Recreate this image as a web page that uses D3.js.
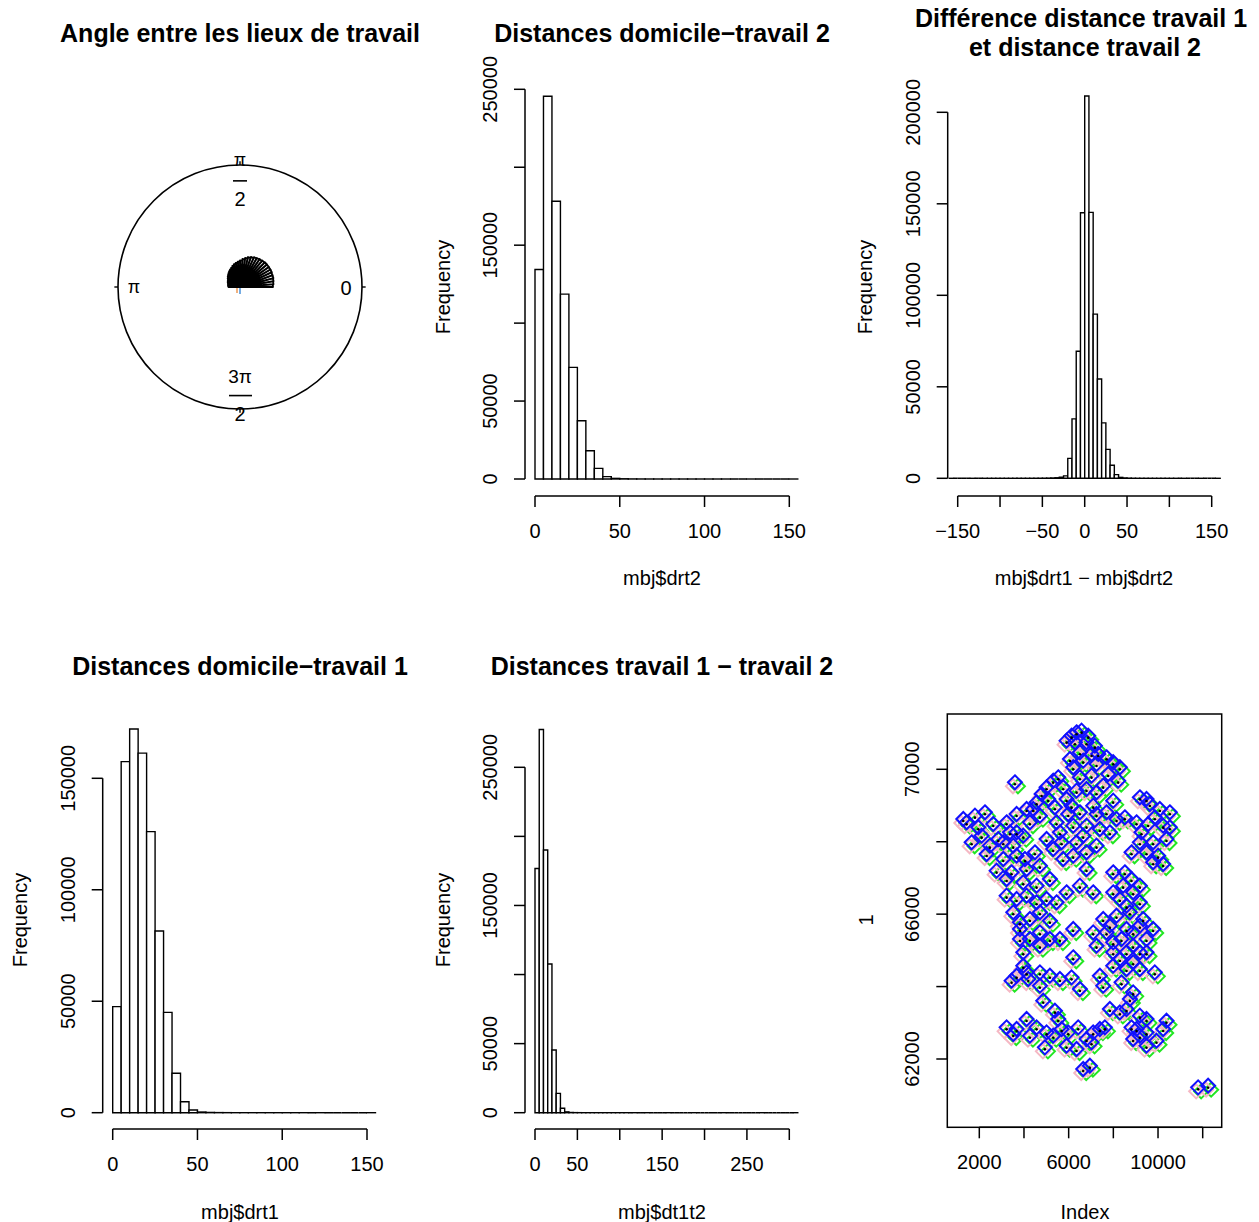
<!DOCTYPE html>
<html><head><meta charset="utf-8">
<script src="https://cdn.jsdelivr.net/npm/d3@7"></script>
<style>body{margin:0;background:#fff}svg{display:block}text{font-family:"Liberation Sans",Arial,Helvetica,sans-serif;fill:#000}</style>
</head><body><svg id="c" width="1259" height="1222"></svg>
<script>
// ---------------- DATA ----------------
// Rose diagram: 5-degree bins from 0 to 180 degrees, radius as fraction of unit circle
const roseBinDeg = 5;
const roseRadius = [0.270,0.275,0.279,0.283,0.283,0.287,0.287,0.287,0.287,0.283,0.279,0.275,0.270,0.262,0.254,0.242,0.230,0.217,
                    0.209,0.201,0.193,0.184,0.172,0.164,0.156,0.148,0.139,0.131,0.123,0.115,0.111,0.107,0.102,0.098,0.098,0.094];
const circleLabels = ["0", "π", "2", "3π"];

// Histogram: mbj$drt2 (bins of 5 from 0)
const drt2Start = 0, drt2Width = 5;
const drt2Counts = [134400,245500,178200,118600,71600,37400,18100,6800,1500,400,150,60,30,15,10,6,4,3,2,2,1,1,1,0,0,1,0,0,0,0,1];
const drt2XTicks = [0,50,100,150];
const drt2YTicks = [0,50000,100000,150000,200000,250000];
const drt2YShown = [0,50000,150000,250000];

// Histogram: mbj$drt1 - mbj$drt2 (bins of 5 from -160)
const diffStart = -160, diffWidth = 5;
const diffCounts = [1,0,0,0,0,1,0,0,1,1,1,2,2,3,4,5,7,10,14,20,30,45,70,110,180,300,600,
                    1300,10900,32500,69400,145100,208900,145300,89700,54300,30300,15800,7100,2000,500,
                    200,90,40,20,12,8,5,3,2,2,1,1,1,0,1,0,0,0,1,0,0,0,1];
const diffXTicks = [-150,-100,-50,0,50,100,150];
const diffXShown = [-150,-50,0,50,150];
const diffYTicks = [0,50000,100000,150000,200000];

// Histogram: mbj$drt1 (bins of 5 from 0)
const drt1Start = 0, drt1Width = 5;
const drt1Counts = [47600,157500,172100,161300,126100,81500,45000,17700,4900,1200,300,120,50,25,12,8,5,3,2,2,1,1,1,0,1,0,0,0,0,0,1];
const drt1XTicks = [0,50,100,150];
const drt1YTicks = [0,50000,100000,150000];

// Histogram: mbj$dt1t2 (bins of 5 from 0)
const dt12Start = 0, dt12Width = 5;
const dt12Counts = [176800,277400,190100,107600,45400,14000,3200,600,150,60,30,15,10,6,4,3,2,2,1,1,
                    1,1,0,1,0,0,1,0,0,0,0,1,0,0,0,0,0,1,0,0,0,0,0,0,1,0,0,0,0,0,0,0,0,1,0,0,0,0,0,0,0,1];
const dt12XTicks = [0,50,100,150,200,250,300];
const dt12XShown = [0,50,150,250];
const dt12YTicks = [0,50000,100000,150000,200000,250000];
const dt12YShown = [0,50000,150000,250000];

// Scatter (Index vs 1)
const scatterX = [6577,6130,6801,6279,7174,6503,7025,6056,6652,7248,7696,8292,8217,7770,7025,6503,7547,7248,3595,
  5534,5012,5757,4565,5086,5385,5906,6354,6801,5981,6503,7099,7696,7994,4117,4714,5459,6205,6801,7397,7845,6652,
  1433,1806,2253,1955,2626,3223,3670,1657,2328,2850,3372,3521,3968,4266,3074,3670,2775,3446,4117,4490,5012,5310,5608,5757,4714,5161,
  9187,9634,10081,10529,8516,9038,9559,10230,9187,9783,10380,10007,9783,8814,10230,
  6205,6801,7248,6801,6503,7099,5906,7994,8441,8888,9187,8292,3223,3670,4117,4565,5012,5459,3521,4714,
  3819,4266,5161,6205,3819,4266,4714,5608,3968,6205,3670,4192,4714,5161,5608,6130,6503,3968,
  7547,8143,8739,9336,9783,7099,7696,8367,8888,9485,7248,7994,8590,9187,7994,8590,9187,7397,8367,9857,7547,8888,
  4863,5385,5534,3223,3521,4117,4266,5012,4937,5683,5906,6428,7099,7025,7621,7845,8292,8739,9038,9485,9485,9187,8888,9932,10380,10230,6354,
  6652,6950,11796,12243,
  6354,6876,5906,7323,7994,6205,5310,4788,4415,6130,7248,8143,5683,6354,3670,3074,2104,1284,2477,4043,3223,3968,4565,
  9485,9857,9261,10529,9485,8516,8814,7994,8590,9187,7845,8590,9187,7994,8888,9485,8292,8888,
  3819,4714,5161,4117,3446,4714,3670,4565,5310,8590,9187,8814,9485,7397,6801,5981];
const scatterY = [71040,70902,70718,70718,70626,70442,70396,70258,70212,70120,70304,70028,69659,69843,69797,69751,69521,69337,69613,
  69751,69475,69475,69061,69153,68923,69153,69383,69429,68739,68785,68969,68785,69107,68877,68693,68508,68416,68416,68324,68232,68140,
  68508,68693,68785,68370,68462,68508,68739,67956,67634,68048,68232,67864,68140,68508,67496,67588,67174,67128,67220,67680,68048,67772,68232,67496,67312,66943,
  69199,69015,68877,68785,68647,68508,68462,68416,67956,67956,68048,67588,67404,67680,67358,
  67588,67680,67864,67220,66759,66575,66575,67128,66759,66575,66759,66391,66483,66391,66483,66299,66391,66299,66023,66023,
  65746,65838,65792,65562,65286,65286,65102,65286,64918,64780,64273,64181,64365,64273,64181,64227,63905,64549,
  65838,65930,66023,65838,65562,65470,65470,65286,65470,65286,65102,64918,64918,64918,64549,64457,64457,64273,64089,64365,63997,63813,
  63583,63307,63076,62846,62662,63076,62616,62708,62294,62800,62340,62846,62708,62432,62846,63353,63261,63629,62800,63076,62340,62616,62524,62478,63030,62800,62248,
  61696,61788,61189,61235,
  70994,70902,70764,70396,70166,70028,69659,69291,68877,68969,68739,68601,67956,67956,68232,67956,68140,68601,67864,67496,66943,66851,66759,
  69153,68647,68232,68370,67680,67128,66943,66575,66207,66299,65654,65562,65654,65194,65102,64918,64734,64642,
  65562,65470,65286,64365,64135,63997,62800,62846,62616,63353,63169,62846,62708,62800,62524,62708];
const scatterXTicks = [2000,4000,6000,8000,10000,12000];
const scatterXShown = [2000,6000,10000];
const scatterYTicks = [62000,64000,66000,68000,70000];
const scatterYShown = [62000,66000,70000];

// ---------------- DRAWING ----------------
const svg = d3.select("#c");
const TICK = 11;
const fmt = v => (v < 0 ? "\u2212" + Math.abs(v) : String(v));

function text(g, x, y, s, size, opts = {}) {
  const t = g.append("text").attr("x", x).attr("y", y).attr("text-anchor", "middle")
    .attr("dominant-baseline", "central").attr("font-size", size).text(s);
  if (opts.bold) t.attr("font-weight", "bold");
  if (opts.rotate) t.attr("transform", `rotate(-90,${x},${y})`);
  return t;
}
function axisBottom(g, scale, ticks, shown, y) {
  g.append("line").attr("x1", scale(ticks[0])).attr("x2", scale(ticks[ticks.length - 1]))
    .attr("y1", y).attr("y2", y).attr("stroke", "#000").attr("stroke-width", 1.5);
  g.selectAll(null).data(ticks).join("line")
    .attr("x1", d => scale(d)).attr("x2", d => scale(d)).attr("y1", y).attr("y2", y + TICK)
    .attr("stroke", "#000").attr("stroke-width", 1.5);
  ticks.filter(t => shown.includes(t)).forEach(t => text(g, scale(t), y + 35, fmt(t), 20));
}
function axisLeft(g, scale, ticks, shown, x) {
  g.append("line").attr("y1", scale(ticks[0])).attr("y2", scale(ticks[ticks.length - 1]))
    .attr("x1", x).attr("x2", x).attr("stroke", "#000").attr("stroke-width", 1.5);
  g.selectAll(null).data(ticks).join("line")
    .attr("y1", d => scale(d)).attr("y2", d => scale(d)).attr("x1", x).attr("x2", x - TICK)
    .attr("stroke", "#000").attr("stroke-width", 1.5);
  ticks.filter(t => shown.includes(t)).forEach(t => text(g, x - 35, scale(t), fmt(t), 20, { rotate: true }));
}
function hist(g, counts, start, width, xs, ys) {
  g.selectAll(null).data(counts).join("path")
    .attr("d", (d, i) => {
      const a = xs(start + i * width), b = xs(start + (i + 1) * width), y0 = ys(0), y1 = ys(d);
      return `M${a},${y0}V${y1}H${b}V${y0}Z`;
    })
    .attr("fill", "#fff").attr("stroke", "#000").attr("stroke-width", 1.4).attr("stroke-linejoin", "miter");
}

// ---- Panel 1: circular rose ----
{
  const g = svg.append("g");
  const cx = 240, cy = 287;
  const r = d3.scaleLinear().domain([0, 1]).range([0, 122]);
  text(g, 240, 33, "Angle entre les lieux de travail", 25, { bold: true });
  g.append("circle").attr("cx", cx).attr("cy", cy).attr("r", r(1)).attr("fill", "none").attr("stroke", "#000").attr("stroke-width", 1.6);
  [0, 90, 180, 270].forEach(a => {
    const t = a * Math.PI / 180;
    g.append("line").attr("x1", cx + r(1) * Math.cos(t)).attr("y1", cy - r(1) * Math.sin(t))
      .attr("x2", cx + r(1.03) * Math.cos(t)).attr("y2", cy - r(1.03) * Math.sin(t)).attr("stroke", "#000").attr("stroke-width", 1.4);
  });
  // labels
  text(g, cx + r(0.87), cy + 1, circleLabels[0], 20);
  text(g, cx - r(0.87), cy, circleLabels[1], 18);
  text(g, cx, cy - r(1.04), circleLabels[1], 18);
  g.append("line").attr("x1", cx - 7).attr("x2", cx + 7).attr("y1", cy - r(0.87)).attr("y2", cy - r(0.87)).attr("stroke", "#000").attr("stroke-width", 1.6);
  text(g, cx, cy - r(0.72), circleLabels[2], 20);
  text(g, cx, cy + r(0.73), circleLabels[3], 19);
  g.append("line").attr("x1", cx - 11).attr("x2", cx + 12).attr("y1", cy + r(0.89)).attr("y2", cy + r(0.89)).attr("stroke", "#000").attr("stroke-width", 1.6);
  text(g, cx, cy + r(1.04), circleLabels[2], 20);
  // wedges
  g.selectAll(null).data(roseRadius).join("path")
    .attr("d", (d, i) => {
      const a0 = i * roseBinDeg * Math.PI / 180, a1 = (i + 1) * roseBinDeg * Math.PI / 180;
      return `M${cx},${cy}L${cx + r(d) * Math.cos(a0)},${cy - r(d) * Math.sin(a0)}L${cx + r(d) * Math.cos(a1)},${cy - r(d) * Math.sin(a1)}Z`;
    })
    .attr("fill", "#fff").attr("stroke", "#000").attr("stroke-width", 1.9).attr("stroke-linejoin", "round");
  g.append("line").attr("x1", cx - 3).attr("x2", cx - 3).attr("y1", cy + 1).attr("y2", cy + 6).attr("stroke", "#e8883a").attr("stroke-width", 1.3);
  g.append("line").attr("x1", cx).attr("x2", cx).attr("y1", cy + 1).attr("y2", cy + 7).attr("stroke", "#2a7fd4").attr("stroke-width", 1.3);
}

// ---- Panel 2: drt2 ----
{
  const g = svg.append("g");
  const xs = d3.scaleLinear().domain([0, 150]).range([535, 789.3]);
  const ys = d3.scaleLinear().domain([0, 250000]).range([479, 89.3]);
  text(g, 662, 33, "Distances domicile\u2212travail 2", 25, { bold: true });
  hist(g, drt2Counts, drt2Start, drt2Width, xs, ys);
  axisBottom(g, xs, drt2XTicks, drt2XTicks, 496);
  axisLeft(g, ys, drt2YTicks, drt2YShown, 525);
  text(g, 662, 578, "mbj$drt2", 20);
  text(g, 443, 287, "Frequency", 20, { rotate: true });
}

// ---- Panel 3: difference ----
{
  const g = svg.append("g");
  const xs = d3.scaleLinear().domain([-150, 150]).range([957.7, 1211.7]);
  const ys = d3.scaleLinear().domain([0, 200000]).range([478.3, 112.3]);
  text(g, 1081, 18, "Diff\u00e9rence distance travail 1", 25, { bold: true });
  text(g, 1085, 47, "et distance travail 2", 25, { bold: true });
  hist(g, diffCounts, diffStart, diffWidth, xs, ys);
  axisBottom(g, xs, diffXTicks, diffXShown, 496);
  axisLeft(g, ys, diffYTicks, diffYTicks, 947.7);
  text(g, 1084, 578, "mbj$drt1 \u2212 mbj$drt2", 20);
  text(g, 865, 287, "Frequency", 20, { rotate: true });
}

// ---- Panel 4: drt1 ----
{
  const g = svg.append("g");
  const xs = d3.scaleLinear().domain([0, 150]).range([112.7, 367]);
  const ys = d3.scaleLinear().domain([0, 150000]).range([1112.7, 778.3]);
  text(g, 240, 666, "Distances domicile\u2212travail 1", 25, { bold: true });
  hist(g, drt1Counts, drt1Start, drt1Width, xs, ys);
  axisBottom(g, xs, drt1XTicks, drt1XTicks, 1129);
  axisLeft(g, ys, drt1YTicks, drt1YTicks, 102.7);
  text(g, 240, 1212, "mbj$drt1", 20);
  text(g, 20, 920, "Frequency", 20, { rotate: true });
}

// ---- Panel 5: dt1t2 ----
{
  const g = svg.append("g");
  const xs = d3.scaleLinear().domain([0, 300]).range([535, 789.3]);
  const ys = d3.scaleLinear().domain([0, 250000]).range([1112.7, 767.3]);
  text(g, 662, 666, "Distances travail 1 \u2212 travail 2", 25, { bold: true });
  hist(g, dt12Counts, dt12Start, dt12Width, xs, ys);
  axisBottom(g, xs, dt12XTicks, dt12XShown, 1129);
  axisLeft(g, ys, dt12YTicks, dt12YShown, 525);
  text(g, 662, 1212, "mbj$dt1t2", 20);
  text(g, 443, 920, "Frequency", 20, { rotate: true });
}

// ---- Panel 6: scatter ----
{
  const g = svg.append("g");
  const xs = d3.scaleLinear().domain([2000, 12000]).range([979.3, 1202.7]);
  const ys = d3.scaleLinear().domain([62000, 70000]).range([1059, 769.3]);
  const L = 947.3, R = 1221.7, T = 714, B = 1127.3;
  const pts = scatterX.map((x, i) => ({ x: x, y: scatterY[i] }));
  const diamond = "M0,-7L7,0L0,7L-7,0Z";
  const layers = [
    { c: "#22e622", dx: 3, dy: 3 },
    { c: "#f5b8c4", dx: -2, dy: 3 },
    { c: "#1010ff", dx: 0, dy: -1 }
  ];
  layers.forEach(l => {
    g.selectAll(null).data(pts).join("path").attr("d", diamond)
      .attr("transform", d => `translate(${xs(d.x) + l.dx},${ys(d.y) + l.dy})`)
      .attr("fill", "none").attr("stroke", l.c).attr("stroke-width", 2);
  });
  g.selectAll(null).data(pts).join("circle")
    .attr("cx", d => xs(d.x)).attr("cy", d => ys(d.y) + 1).attr("r", 1.3).attr("fill", "#000");
  g.append("rect").attr("x", L).attr("y", T).attr("width", R - L).attr("height", B - T)
    .attr("fill", "none").attr("stroke", "#000").attr("stroke-width", 1.5);
  axisBottom(g, xs, scatterXTicks, scatterXShown, B);
  axisLeft(g, ys, scatterYTicks, scatterYShown, L);
  text(g, 1085, 1212, "Index", 20);
  text(g, 866, 920, "1", 20, { rotate: true });
}
</script>
</body></html>
